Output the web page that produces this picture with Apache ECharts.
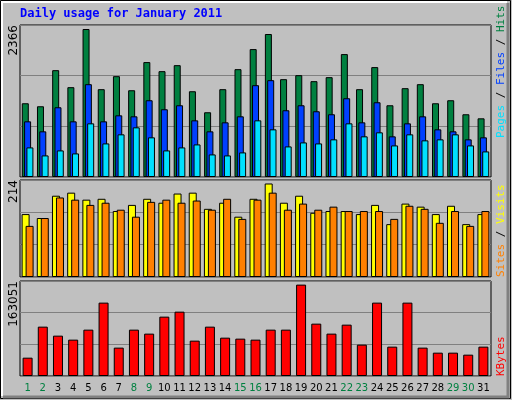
<!DOCTYPE html>
<html>
<head>
<meta charset="utf-8">
<script src="https://cdn.jsdelivr.net/npm/echarts@6/dist/echarts.min.js"></script>
<style>
  html, body { margin: 0; padding: 0; background: #c0c0c0; }
  #chart { width: 512px; height: 400px; }
</style>
</head>
<body>
<div id="chart"></div>
<script>
var days = [];
for (var d = 1; d <= 31; d++) days.push(String(d));
var weekendDays = ['1', '2', '8', '9', '15', '16', '22', '23', '29', '30'];

var hits = [1179, 1131, 1708, 1436, 2366, 1404, 1612, 1387, 1837, 1692, 1788, 1371, 1035, 1404, 1724, 2045,
    2286, 1564, 1628, 1532, 1596, 1965, 1404, 1757, 1147, 1420, 1484, 1179, 1227, 1003, 938];
var files = [890, 730, 1115, 890, 1484, 890, 986, 970, 1227, 1083, 1147, 906, 730, 874, 970, 1468,
    1548, 1067, 1147, 1051, 1003, 1259, 874, 1195, 650, 858, 970, 762, 730, 602, 634];
var pages = [473, 345, 425, 377, 858, 537, 682, 794, 634, 425, 473, 521, 361, 345, 393, 906,
    762, 489, 553, 537, 602, 858, 650, 714, 505, 682, 586, 602, 682, 505, 409];
var visits = [144, 135, 186, 193, 177, 179, 151, 165, 179, 170, 191, 193, 156, 170, 138, 179,
    214, 170, 186, 147, 151, 151, 144, 165, 121, 168, 161, 144, 163, 121, 144];
var sites = [117, 135, 182, 177, 165, 170, 154, 138, 172, 177, 170, 175, 154, 179, 133, 177,
    193, 154, 168, 154, 161, 151, 151, 151, 133, 163, 156, 124, 151, 117, 151];
var kbytes = [32700, 88060, 72000, 64860, 82700, 130900, 50600, 82700, 75600, 105900, 114800, 63070, 88060, 68400, 66640, 64860,
    82700, 82700, 163051, 93400, 75600, 91630, 55930, 130900, 52360, 130900, 50600, 41650, 41650, 38080, 52360];

var chart = echarts.init(document.getElementById('chart'));

function bar(name, data, color, width, gap, xi) {
    return {
        name: name, type: 'bar', data: data, xAxisIndex: xi, yAxisIndex: xi,
        barWidth: width, barGap: gap, animation: false,
        itemStyle: { color: color, borderColor: '#000', borderWidth: 1 }
    };
}

function xAx(idx, showLabels) {
    return {
        type: 'category', data: days, gridIndex: idx,
        axisLine: { show: false }, axisTick: { show: false },
        axisLabel: {
            show: showLabels, interval: 0, margin: 7, fontFamily: 'DejaVu Sans', fontSize: 10,
            color: function (v) { return weekendDays.indexOf(v) >= 0 ? '#008040' : '#000'; }
        }
    };
}

function yAx(idx, max, interval) {
    return {
        type: 'value', gridIndex: idx, min: 0, max: max, interval: interval,
        axisLabel: { show: false }, axisLine: { show: false }, axisTick: { show: false },
        splitLine: { lineStyle: { color: '#808080', width: 1 } }
    };
}

var option = {
    backgroundColor: '#c0c0c0',
    grid: [
        { left: 20, right: 21, top: 25, height: 152, show: true, borderColor: '#000', borderWidth: 1 },
        { left: 20, right: 21, top: 180, height: 97, show: true, borderColor: '#000', borderWidth: 1 },
        { left: 20, right: 21, top: 281, height: 95, show: true, borderColor: '#000', borderWidth: 1 }
    ],
    xAxis: [xAx(0, false), xAx(1, false), xAx(2, true)],
    yAxis: [yAx(0, 2430, 810), yAx(1, 222, 74), yAx(2, 169500, 56500)],
    series: [
        bar('Hits', hits, '#008040', 7, '-67%', 0),
        bar('Files', files, '#0040ff', 7, '-67%', 0),
        bar('Pages', pages, '#00e0ff', 7, '-67%', 0),
        bar('Visits', visits, '#ffff00', 8, '-50%', 1),
        bar('Sites', sites, '#ff8000', 8, '-50%', 1),
        bar('KBytes', kbytes, '#ff0000', 10, '0%', 2)
    ],
    graphic: [
        { type: 'rect', shape: { x: 0.5, y: 0.5, width: 510, height: 398 }, style: { fill: 'none', stroke: '#000' }, silent: true },
        { type: 'polyline', shape: { points: [[2, 396], [2, 2], [507, 2]] }, style: { fill: 'none', stroke: '#fff', lineWidth: 2 }, silent: true },
        { type: 'polyline', shape: { points: [[508, 3], [508, 397], [3, 397]] }, style: { fill: 'none', stroke: '#808080', lineWidth: 3 }, silent: true },
        { type: 'text', left: 20, top: 8, style: { text: 'Daily usage for January 2011', fill: '#0000ff', font: 'bold 12px "DejaVu Sans Mono"' } },
        { type: 'text', x: 8, y: 25, rotation: Math.PI / 2, style: { text: '2366', fill: '#000', font: '12px "DejaVu Sans"', align: 'right', verticalAlign: 'top' } },
        { type: 'text', x: 8, y: 180, rotation: Math.PI / 2, style: { text: '214', fill: '#000', font: '12px "DejaVu Sans"', align: 'right', verticalAlign: 'top' } },
        { type: 'text', x: 8, y: 281, rotation: Math.PI / 2, style: { text: '163051', fill: '#000', font: '12px "DejaVu Sans"', align: 'right', verticalAlign: 'top' } },
        {
            type: 'text', x: 496, y: 138, rotation: Math.PI / 2,
            style: {
                text: '{p|Pages} / {f|Files} / {h|Hits}', font: '11px "DejaVu Sans Mono"', fill: '#000',
                align: 'left', verticalAlign: 'top',
                rich: { p: { fill: '#00e0ff' }, f: { fill: '#0040ff' }, h: { fill: '#008040' } }
            }
        },
        {
            type: 'text', x: 496, y: 277, rotation: Math.PI / 2,
            style: {
                text: '{s|Sites} / {v|Visits}', font: '11px "DejaVu Sans Mono"', fill: '#000',
                align: 'left', verticalAlign: 'top',
                rich: { s: { fill: '#ff8000' }, v: { fill: '#ffff00' } }
            }
        },
        {
            type: 'text', x: 496, y: 376, rotation: Math.PI / 2,
            style: { text: 'KBytes', font: '11px "DejaVu Sans Mono"', fill: '#ff0000', align: 'left', verticalAlign: 'top' }
        }
    ]
};

chart.setOption(option);
</script>
</body>
</html>
